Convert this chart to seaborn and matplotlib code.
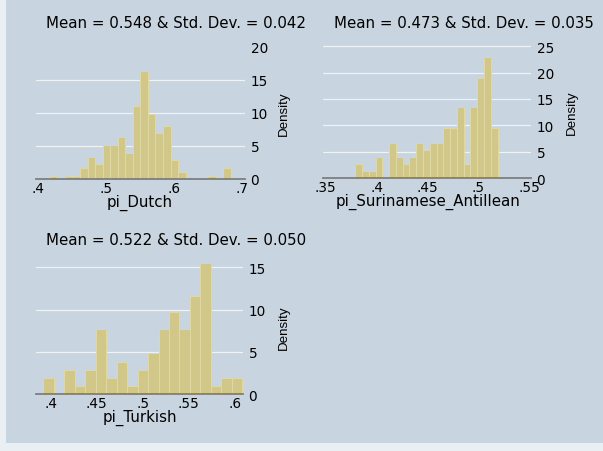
import numpy as np
import pandas as pd
import matplotlib
matplotlib.use("Agg")
import matplotlib.pyplot as plt
from matplotlib.patches import Rectangle
import seaborn as sns

# histogram bins: first bin edge, bin width, density per bin
dutch_start = 0.4175
dutch_width = 0.01109
dutch_density = [0.45, 0, 0.45, 0.45, 1.6, 3.4, 2.2, 5.1, 5.1, 6.3, 4.0, 11.0,
                 16.3, 9.85, 6.9, 8.1, 2.9, 1.0, 0, 0, 0, 0.45, 0, 1.6]

sur_start = 0.379
sur_width = 0.00667
sur_density = [2.7, 1.35, 1.35, 4.05, 0, 6.75, 4.05, 2.7, 4.05, 6.75, 5.4,
               6.75, 6.75, 9.45, 9.45, 13.5, 2.7, 13.5, 18.9, 22.95, 9.45]

turk_start = 0.392
turk_width = 0.01138
turk_density = [1.9, 0, 2.87, 0.98, 2.87, 7.7, 1.9, 3.86, 0.98, 2.87, 4.88,
                7.7, 9.7, 7.7, 11.65, 15.5, 0.98, 1.9, 1.9]

titles = ["Mean = 0.548 & Std. Dev. = 0.042",
          "Mean = 0.473 & Std. Dev. = 0.035",
          "Mean = 0.522 & Std. Dev. = 0.050"]
xlabels = ["pi_Dutch", "pi_Surinamese_Antillean", "pi_Turkish"]

dutch_xticks = [0.4, 0.5, 0.6, 0.7]
dutch_xticklabels = [".4", ".5", ".6", ".7"]
sur_xticks = [0.35, 0.4, 0.45, 0.5, 0.55]
sur_xticklabels = [".35", ".4", ".45", ".5", ".55"]
turk_xticks = [0.4, 0.45, 0.5, 0.55, 0.6]
turk_xticklabels = [".4", ".45", ".5", ".55", ".6"]

dutch_yticks = [0, 5, 10, 15, 20]
sur_yticks = [0, 5, 10, 15, 20, 25]
turk_yticks = [0, 5, 10, 15]

BG = "#C8D4DF"
EDGE_BG = "#E9EFF3"
BAR = "#D0C788"
BAR_EDGE = "#DFD8A2"
GRID = "#EEF3F5"
W, H = 603, 452

sns.set_style("white")
plt.rcParams["font.family"] = ["DejaVu Sans"]
plt.rcParams["text.color"] = "black"
plt.rcParams["xtick.labelcolor"] = "black"
plt.rcParams["ytick.labelcolor"] = "black"
FS_TITLE = 10.8
FS_TICK = 9.8

fig = plt.figure(figsize=(W / 100, H / 100), dpi=100, facecolor=BG)

# light strips on the left and bottom edge of the image
fig.patches.append(Rectangle((0, 0), 6 / W, 1, transform=fig.transFigure,
                             facecolor=EDGE_BG, edgecolor="none", zorder=0))
fig.patches.append(Rectangle((0, 0), 1, 8 / H, transform=fig.transFigure,
                             facecolor=EDGE_BG, edgecolor="none", zorder=0))


def px_axes(x0, x1, ytop, ybot):
    return fig.add_axes([x0 / W, 1 - ybot / H, (x1 - x0) / W, (ybot - ytop) / H])


def draw_hist(ax, start, width, density, xlim, ylim, xticks, xticklabels, yticks):
    edges = [start + width * i for i in range(len(density) + 1)]
    df = pd.DataFrame({"x": [e + width / 2 for e in edges[:-1]], "w": density})
    sns.histplot(data=df, x="x", weights="w", bins=edges, stat="count",
                 color=BAR, edgecolor=BAR_EDGE, linewidth=0.8, alpha=1, ax=ax,
                 zorder=2)
    ax.set_facecolor(BG)
    ax.set_xlim(*xlim)
    ax.set_ylim(*ylim)
    for s in ["top", "left", "right"]:
        ax.spines[s].set_visible(False)
    ax.spines["bottom"].set_color("#7E7E7E")
    ax.spines["bottom"].set_linewidth(1.3)
    ax.spines["bottom"].set_zorder(3)
    ax.set_xticks(xticks)
    ax.set_xticklabels(xticklabels)
    ax.tick_params(axis="x", direction="in", length=3.2, width=0.8, color="black",
                   pad=1.5, labelsize=FS_TICK, labelcolor="black")
    ax.yaxis.tick_right()
    ax.set_yticks(yticks)
    ax.tick_params(axis="y", length=0, pad=4, labelsize=FS_TICK, labelcolor="black")
    ax.grid(axis="y", color=GRID, linewidth=0.9, zorder=0)
    ax.set_axisbelow(True)
    for line, val in zip(ax.get_ygridlines(), yticks):
        if val == 0 or val >= ylim[1]:
            line.set_visible(False)
    ax.set_xlabel("")
    ax.set_ylabel("")


# pi_Dutch
ax1 = px_axes(36, 245, 48, 180)
draw_hist(ax1, dutch_start, dutch_width, dutch_density, (0.397, 0.7044), (0, 20),
          dutch_xticks, dutch_xticklabels, dutch_yticks)

# pi_Surinamese_Antillean
ax2 = px_axes(323, 531, 46, 179.3)
draw_hist(ax2, sur_start, sur_width, sur_density, (0.3473, 0.552), (0, 25.2),
          sur_xticks, sur_xticklabels, sur_yticks)

# pi_Turkish
ax3 = px_axes(36, 243, 263.2, 395.3)
draw_hist(ax3, turk_start, turk_width, turk_density, (0.384, 0.609), (0, 15.6),
          turk_xticks, turk_xticklabels, turk_yticks)

# titles, axis titles (placed in pixel positions like the Stata layout)
title_pos = [(176, 24), (464, 24), (176, 241)]
xlabel_pos = [(140, 203), (428, 202), (140, 418)]
ylabel_pos = [(284, 114), (572, 113), (284, 328)]
for i in range(3):
    fig.text(title_pos[i][0] / W, 1 - title_pos[i][1] / H, titles[i],
             ha="center", va="center", fontsize=FS_TITLE, color="black")
    fig.text(xlabel_pos[i][0] / W, 1 - xlabel_pos[i][1] / H, xlabels[i],
             ha="center", va="center", fontsize=FS_TITLE, color="black")
    fig.text(ylabel_pos[i][0] / W, 1 - ylabel_pos[i][1] / H, "Density",
             ha="center", va="center", rotation=90, fontsize=9.6, color="black",
             family=["Liberation Sans", "DejaVu Sans"])

fig.savefig("out.png", dpi=100, facecolor=BG)
